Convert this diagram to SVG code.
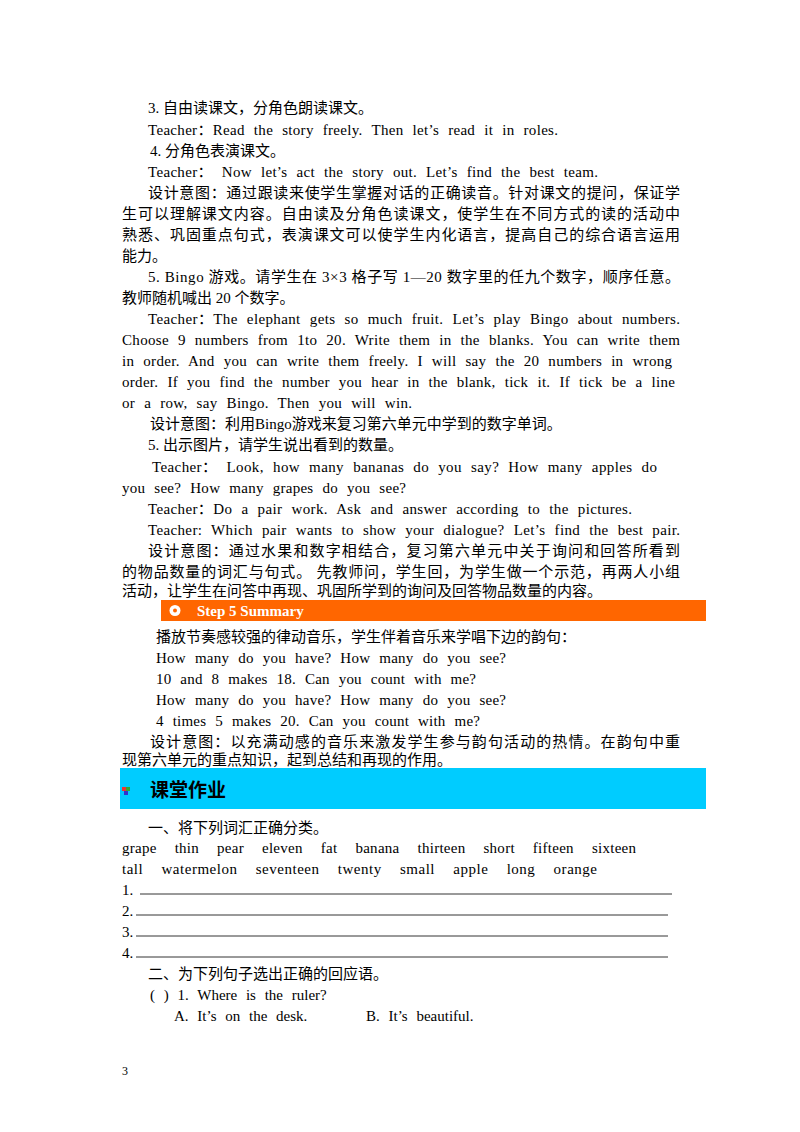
<svg xmlns="http://www.w3.org/2000/svg" width="800" height="1132" viewBox="0 0 800 1132">
<style>
text{font-family:"Liberation Serif","Noto Sans CJK SC",serif;font-size:15px;fill:#000}
.e{word-spacing:5px}
.w{word-spacing:14px}
.ln{stroke:#000;stroke-width:0.8}
</style>
<rect width="800" height="1132" fill="#fff"/>
<text x="148" y="113">3. 自由读课文，分角色朗读课文。</text>
<text class="e" x="148" y="135" textLength="410" lengthAdjust="spacing">Teacher：Read the story freely. Then let’s read it in roles.</text>
<text x="150" y="156">4. 分角色表演课文。</text>
<text class="e" x="148" y="177" textLength="450" lengthAdjust="spacing">Teacher： Now let’s act the story out. Let’s find the best team.</text>
<text x="148" y="198" textLength="532" lengthAdjust="spacing">设计意图：通过跟读来使学生掌握对话的正确读音。针对课文的提问，保证学</text>
<text x="122" y="219" textLength="558" lengthAdjust="spacing">生可以理解课文内容。自由读及分角色读课文，使学生在不同方式的读的活动中</text>
<text x="122" y="240" textLength="558" lengthAdjust="spacing">熟悉、巩固重点句式，表演课文可以使学生内化语言，提高自己的综合语言运用</text>
<text x="122" y="261">能力。</text>
<text x="148" y="282" textLength="532" lengthAdjust="spacing">5. Bingo 游戏。请学生在 3×3 格子写 1—20 数字里的任九个数字，顺序任意。</text>
<text x="122" y="303">教师随机喊出 20 个数字。</text>
<text class="e" x="148" y="324" textLength="532" lengthAdjust="spacing">Teacher：The elephant gets so much fruit. Let’s play Bingo about numbers.</text>
<text class="e" x="122" y="345" textLength="558" lengthAdjust="spacing">Choose 9 numbers from 1to 20. Write them in the blanks. You can write them</text>
<text class="e" x="122" y="366" textLength="550" lengthAdjust="spacing">in order. And you can write them freely. I will say the 20 numbers in wrong</text>
<text class="e" x="122" y="387" textLength="553" lengthAdjust="spacing">order. If you find the number you hear in the blank, tick it. If tick be a line</text>
<text class="e" x="122" y="408" textLength="290" lengthAdjust="spacing">or a row, say Bingo. Then you will win.</text>
<text x="150" y="429">设计意图：利用Bingo游戏来复习第六单元中学到的数字单词。</text>
<text x="148" y="450">5. 出示图片，请学生说出看到的数量。</text>
<text class="e" x="152" y="472" textLength="505" lengthAdjust="spacing">Teacher： Look, how many bananas do you say? How many apples do</text>
<text class="e" x="122" y="493" textLength="284" lengthAdjust="spacing">you see? How many grapes do you see?</text>
<text class="e" x="148" y="514" textLength="484" lengthAdjust="spacing">Teacher：Do a pair work. Ask and answer according to the pictures.</text>
<text class="e" x="148" y="535" textLength="532" lengthAdjust="spacing">Teacher: Which pair wants to show your dialogue? Let’s find the best pair.</text>
<text x="148" y="556" textLength="532" lengthAdjust="spacing">设计意图：通过水果和数字相结合，复习第六单元中关于询问和回答所看到</text>
<text x="122" y="577" textLength="558" lengthAdjust="spacing">的物品数量的词汇与句式。 先教师问，学生回，为学生做一个示范，再两人小组</text>
<text x="122" y="596">活动，让学生在问答中再现、巩固所学到的询问及回答物品数量的内容。</text>
<g id="step5">
<rect x="161" y="600" width="545" height="21" fill="#ff6600"/>
<circle cx="175" cy="610.5" r="5.5" fill="#fff"/>
<circle cx="175" cy="610.5" r="2" fill="#ff6600"/>
<text x="197" y="616" style="font-weight:bold;fill:#fff">Step 5 Summary</text>
</g>
<text x="156" y="642">播放节奏感较强的律动音乐，学生伴着音乐来学唱下边的韵句：</text>
<text class="e" x="156" y="663" textLength="350" lengthAdjust="spacing">How many do you have? How many do you see?</text>
<text class="e" x="156" y="684" textLength="320" lengthAdjust="spacing">10 and 8 makes 18. Can you count with me?</text>
<text class="e" x="156" y="705" textLength="350" lengthAdjust="spacing">How many do you have? How many do you see?</text>
<text class="e" x="156" y="726" textLength="324" lengthAdjust="spacing">4 times 5 makes 20. Can you count with me?</text>
<text x="150" y="747" textLength="530" lengthAdjust="spacing">设计意图：以充满动感的音乐来激发学生参与韵句活动的热情。在韵句中重</text>
<text x="122" y="765">现第六单元的重点知识，起到总结和再现的作用。</text>
<g id="hw">
<rect x="120" y="768" width="586" height="41" fill="#00ccff"/>
<rect x="122" y="787" width="4" height="4" fill="#e33"/>
<rect x="126" y="787" width="4" height="4" fill="#3a3"/>
<rect x="124" y="791" width="4" height="4" fill="#33c"/>
<text x="150" y="797" style="font-size:19px;font-weight:bold;font-family:'Noto Sans CJK SC',sans-serif">课堂作业</text>
</g>
<text x="148" y="833">一、将下列词汇正确分类。</text>
<text class="w" x="122" y="853" textLength="514" lengthAdjust="spacing">grape thin pear eleven fat banana thirteen short fifteen sixteen</text>
<text class="w" x="122" y="874" textLength="475" lengthAdjust="spacing">tall watermelon seventeen twenty small apple long orange</text>
<text x="122" y="895">1.</text><line class="ln" x1="140" y1="894" x2="672" y2="894"/>
<text x="122" y="916">2.</text><line class="ln" x1="136" y1="915" x2="668" y2="915"/>
<text x="122" y="937">3.</text><line class="ln" x1="136" y1="936" x2="668" y2="936"/>
<text x="122" y="958">4.</text><line class="ln" x1="136" y1="957" x2="668" y2="957"/>
<text x="148" y="979">二、为下列句子选出正确的回应语。</text>
<text class="e" x="150" y="1000">( ) 1. Where is the ruler?</text>
<text class="e" x="174" y="1021">A. It’s on the desk.</text>
<text class="e" x="366" y="1021">B. It’s beautiful.</text>
<text x="122" y="1075" style="font-size:12px">3</text>
</svg>
